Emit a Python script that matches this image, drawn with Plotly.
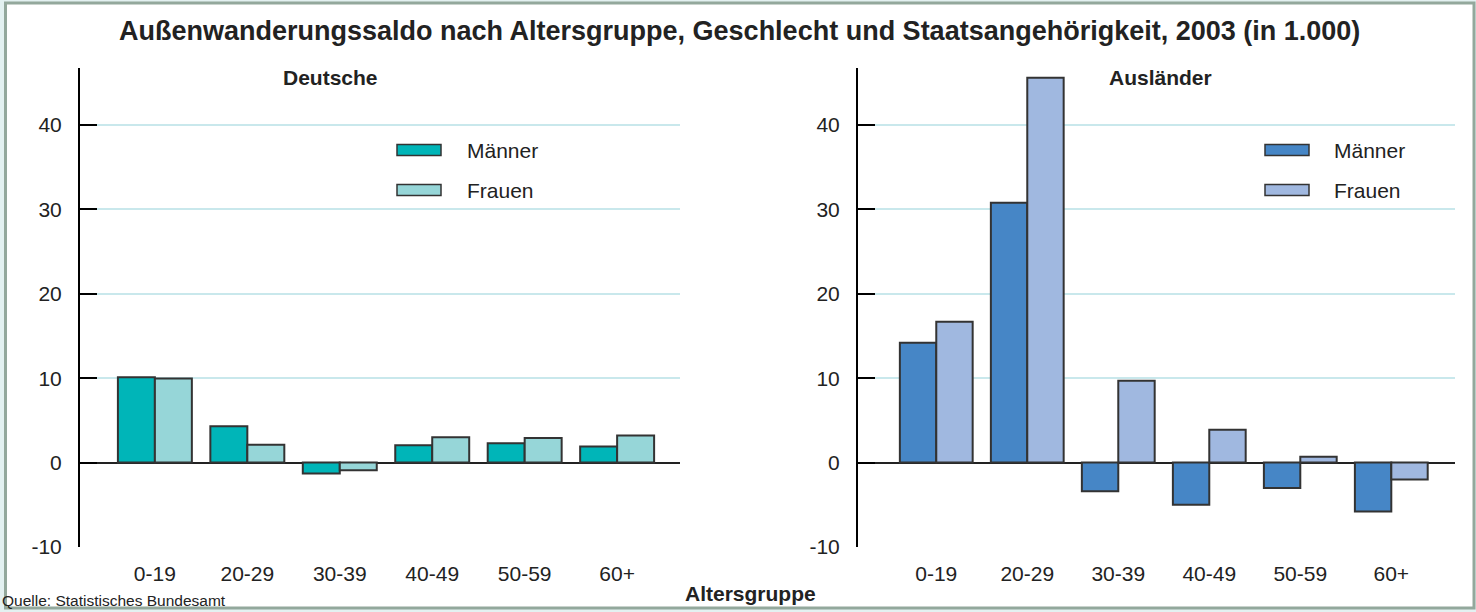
import plotly.graph_objects as go
from plotly.subplots import make_subplots

# Außenwanderungssaldo 2003, in 1.000
altersgruppen = ['0-19', '20-29', '30-39', '40-49', '50-59', '60+']
deutsche_maenner = [10.1, 4.3, -1.3, 2.05, 2.3, 1.9]
deutsche_frauen = [9.95, 2.1, -0.9, 3.0, 2.9, 3.2]
auslaender_maenner = [14.2, 30.8, -3.4, -5.0, -3.0, -5.8]
auslaender_frauen = [16.7, 45.6, 9.7, 3.9, 0.7, -2.0]
y_ticks = [-10, 0, 10, 20, 30, 40]
y_ticktext = ['-10', '0', '10', '20', '30', '40']

W, H = 1476, 612
FONT = 'Arial, Liberation Sans, sans-serif'
TXT = '#222222'
col_de_m, col_de_f = '#00b5b8', '#96d6d8'
col_au_m, col_au_f = '#4686c6', '#a0b8e0'
edge = '#333333'


def px_x(x):
    return x / W


def px_y(y):
    return 1 - y / H


fig = make_subplots(rows=1, cols=2)

for col, m, f, cm, cf in [(1, deutsche_maenner, deutsche_frauen, col_de_m, col_de_f),
                           (2, auslaender_maenner, auslaender_frauen, col_au_m, col_au_f)]:
    fig.add_trace(go.Bar(x=altersgruppen, y=m, name='Männer', marker_color=cm,
                         marker_line=dict(color=edge, width=2), showlegend=False), row=1, col=col)
    fig.add_trace(go.Bar(x=altersgruppen, y=f, name='Frauen', marker_color=cf,
                         marker_line=dict(color=edge, width=2), showlegend=False), row=1, col=col)

fig.update_layout(
    width=W, height=H,
    margin=dict(l=0, r=0, t=0, b=0),
    paper_bgcolor='#e3f1f1', plot_bgcolor='rgba(0,0,0,0)',
    barmode='group', bargap=0.2, bargroupgap=0,
    font=dict(family=FONT, color=TXT, size=21),
)

fig.update_xaxes(showline=False, showgrid=False, ticks='', automargin=False,
                 ticklabelstandoff=12, tickfont=dict(size=21))
fig.update_xaxes(domain=[px_x(80), px_x(680)], range=[-0.81, 5.68], row=1, col=1)
fig.update_xaxes(domain=[px_x(858), px_x(1455)], range=[-0.86, 5.70], row=1, col=2)

fig.update_yaxes(range=[-10, 46.75], tickvals=y_ticks, ticktext=y_ticktext,
                 domain=[px_y(547), px_y(68)],
                 showline=True, linecolor='black', linewidth=2,
                 ticks='inside', ticklen=17, tickwidth=2, tickcolor='black',
                 showgrid=True, gridcolor='#c9e8ec', gridwidth=2,
                 zeroline=True, zerolinecolor='#222222', zerolinewidth=2,
                 automargin=False, ticklabelstandoff=12, tickfont=dict(size=21))

# frame
fig.add_shape(type='rect', xref='paper', yref='paper',
              x0=px_x(5.5), x1=px_x(1474), y0=px_y(608), y1=px_y(3),
              fillcolor='white', line=dict(color='#93a89c', width=3), layer='below')

# legends
legenden = [(397, 465, [('Männer', col_de_m), ('Frauen', col_de_f)]),
            (1265, 1332, [('Männer', col_au_m), ('Frauen', col_au_f)])]
for sx, tx, items in legenden:
    for i, (lab, c) in enumerate(items):
        yc = 150 + 40 * i
        fig.add_shape(type='rect', xref='paper', yref='paper',
                      x0=px_x(sx), x1=px_x(sx + 44), y0=px_y(yc + 5.5), y1=px_y(yc - 5.5),
                      fillcolor=c, line=dict(color=edge, width=1.5))
        fig.add_annotation(x=px_x(tx), y=px_y(yc), xref='paper', yref='paper',
                           text=lab, showarrow=False, xanchor='left', yanchor='middle',
                           font=dict(size=21, color=TXT))

ann = [
    ('<b>Außenwanderungssaldo nach Altersgruppe, Geschlecht und Staatsangehörigkeit, 2003 (in 1.000)</b>',
     739, 31, 'center', 27),
    ('<b>Deutsche</b>', 330, 77, 'center', 21),
    ('<b>Ausländer</b>', 1160, 77, 'center', 21),
    ('<b>Altersgruppe</b>', 750, 593, 'center', 21),
    ('Quelle: Statistisches Bundesamt', 0, 600, 'left', 15.5),
]
for text, x, y, anchor, size in ann:
    fig.add_annotation(x=px_x(x), y=px_y(y), xref='paper', yref='paper', text=text,
                       showarrow=False, xanchor=anchor, yanchor='middle',
                       font=dict(size=size, color=TXT))

fig.write_html('out.html', config={'displayModeBar': False},
               post_script="document.body.style.margin='0';")
